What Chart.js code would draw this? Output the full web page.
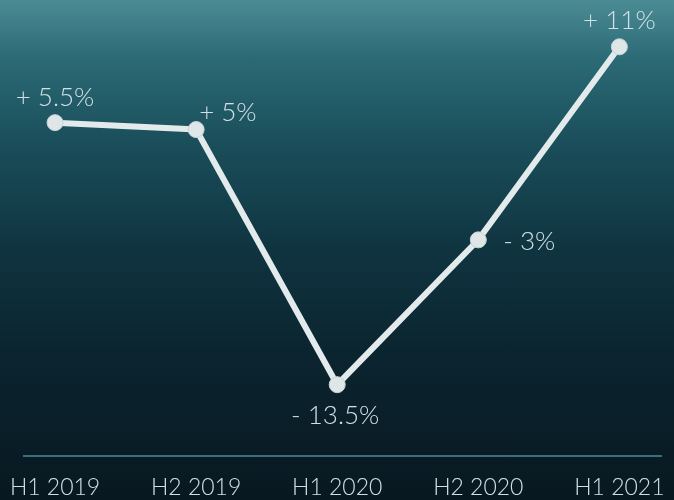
<!DOCTYPE html>
<html>
<head>
<meta charset="utf-8">
<script src="https://cdn.jsdelivr.net/npm/chart.js@4"></script>
<style>
    html, body { margin: 0; padding: 0; }
    body {
        width: 674px;
        height: 500px;
        overflow: hidden;
        background: linear-gradient(180deg, #4b8b94 0%, #2b6a75 12%, #1a4f5b 28%, #0f3440 50%, #0b2530 70%, #09192200 100%), #081820;
    }
    /* canvas runs a little past the window so the x labels sit at the bottom edge */
    #wrap { position: relative; width: 674px; height: 510px; }
</style>
</head>
<body>
<div id="wrap"><canvas id="chart"></canvas></div>
<script>
/* ------------------------------------------------------------------ */
/*  Data                                                               */
/* ------------------------------------------------------------------ */

const periods = ['H1 2019', 'H2 2019', 'H1 2020', 'H2 2020', 'H1 2021'];
const growth = [5.5, 5, -13.5, -3, 11];
const growth_labels = ['+ 5.5%', '+ 5%', '- 13.5%', '- 3%', '+ 11%'];

/* label placement relative to each point: [dx, dy, align] */
const label_place = [
    [0, -25, 'center'],
    [3, -17, 'left'],
    [-2, 31, 'center'],
    [25, 2, 'left'],
    [0, -26, 'center']
];

const text_color = 'rgb(208, 224, 228)';

/** Draws the percentage text beside each point. */
const pointLabels = {
    id: 'pointLabels',
    afterDatasetsDraw(chart) {
        const ctx = chart.ctx;
        const meta = chart.getDatasetMeta(0);
        ctx.save();
        ctx.font = '300 26px Lato, "Open Sans", sans-serif';
        ctx.fillStyle = text_color;
        ctx.textBaseline = 'middle';
        meta.data.forEach((pt, i) => {
            const p = label_place[i];
            ctx.textAlign = p[2];
            ctx.fillText(growth_labels[i], pt.x + p[0], pt.y + p[1]);
        });
        ctx.restore();
    }
};

const chart = new Chart(document.getElementById('chart'), {
    type: 'line',
    data: {
        datasets: [{
            data: growth.map((v, i) => ({ x: i, y: v })),
            borderColor: 'rgb(226, 234, 236)',
            borderWidth: 6,
            backgroundColor: 'rgb(222, 230, 232)',
            pointBackgroundColor: 'rgb(222, 230, 232)',
            pointBorderColor: 'rgb(200, 212, 216)',
            pointBorderWidth: 1,
            pointRadius: 8,
            tension: 0
        }]
    },
    options: {
        animation: false,
        responsive: true,
        maintainAspectRatio: false,
        layout: { padding: { left: 22, right: 6, top: 0, bottom: 0 } },
        scales: {
            x: {
                type: 'linear',
                min: -0.22,
                max: 4.297,
                afterBuildTicks(axis) {
                    axis.ticks = periods.map((p, i) => ({ value: i }));
                },
                ticks: {
                    color: text_color,
                    font: { family: 'Lato, "Open Sans", sans-serif', size: 23, weight: '300' },
                    padding: 9,
                    maxRotation: 0,
                    autoSkip: false,
                    callback: (v) => periods[v]
                },
                grid: { display: false },
                border: { display: true, color: 'rgba(70, 120, 130, 0.9)', width: 2 }
            },
            y: {
                display: false,
                min: -18.7,
                max: 13.74
            }
        },
        plugins: {
            legend: { display: false },
            tooltip: { enabled: false }
        }
    },
    plugins: [pointLabels]
});
</script>
</body>
</html>
